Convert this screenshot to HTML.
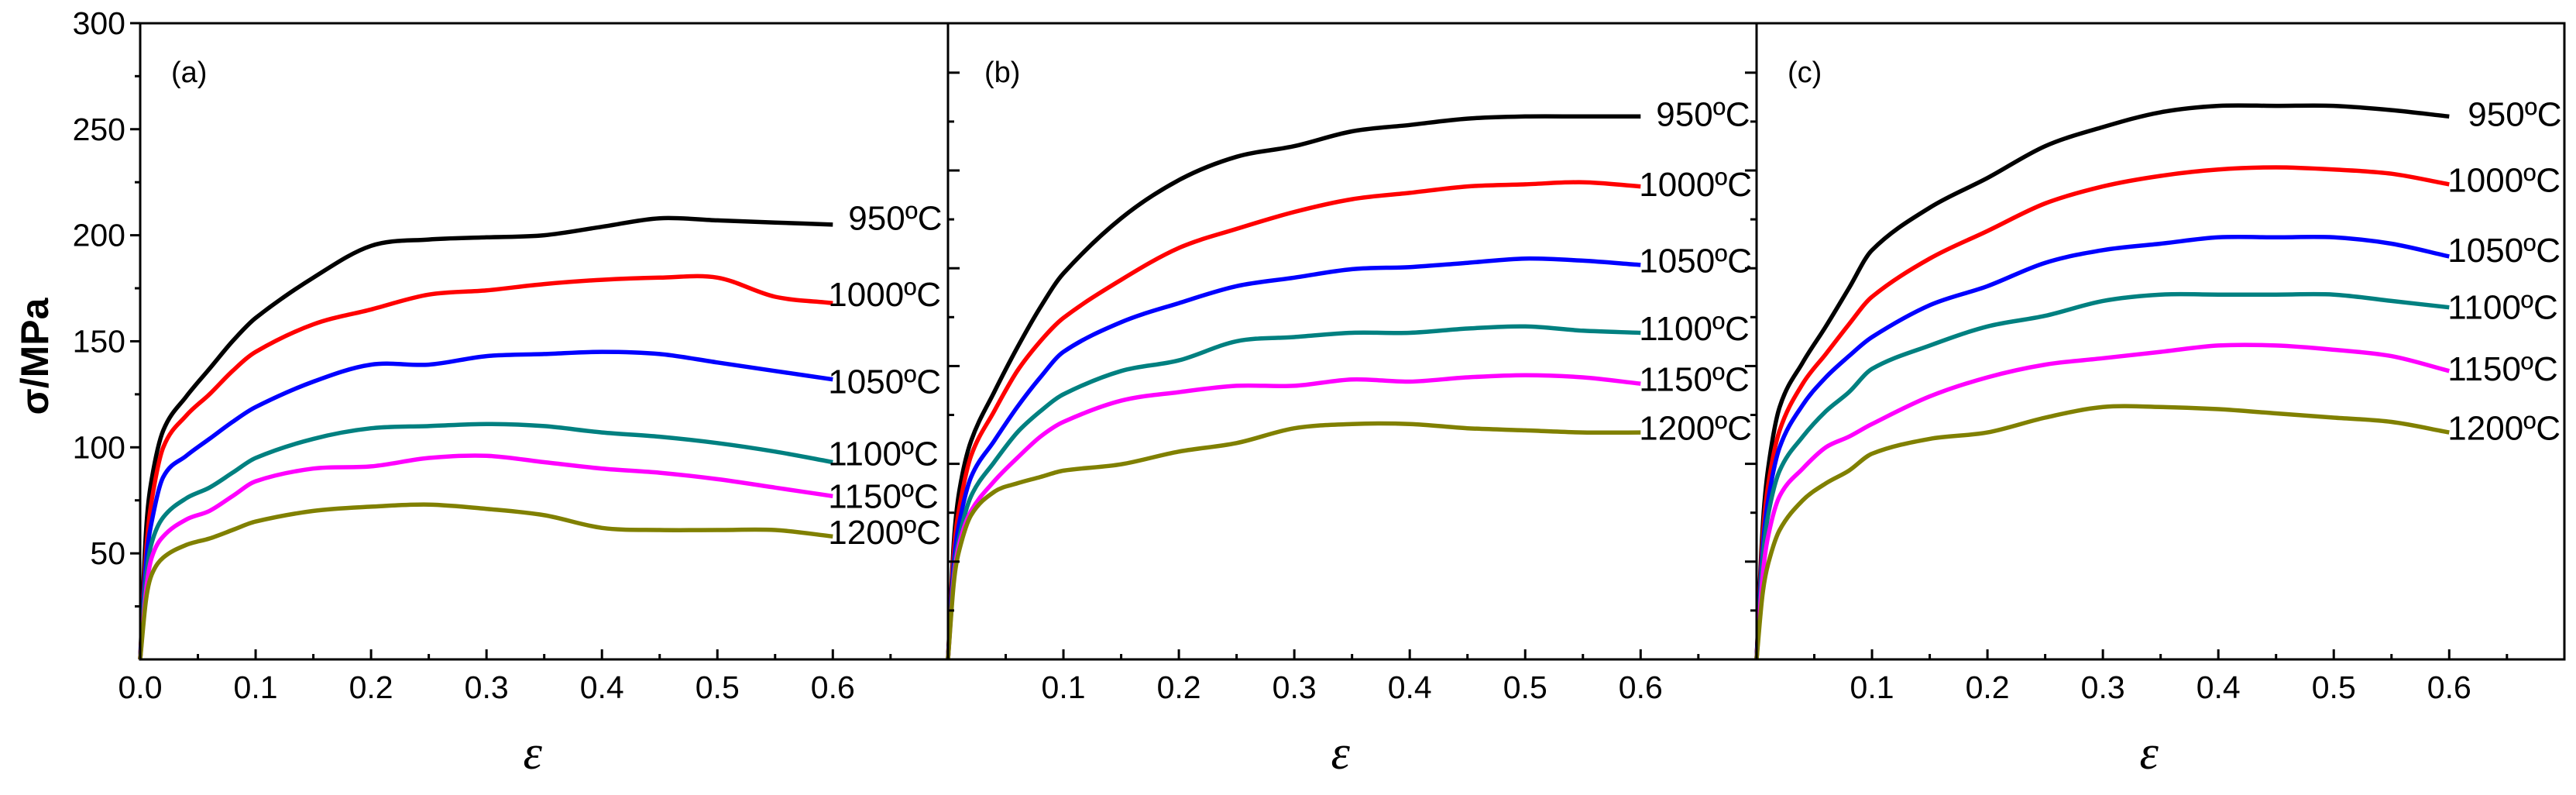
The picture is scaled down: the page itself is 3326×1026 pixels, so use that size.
<!DOCTYPE html>
<html><head><meta charset="utf-8"><style>
html,body{margin:0;padding:0;background:#fff;}
svg{display:block;font-family:"Liberation Sans",sans-serif;}
</style></head><body>
<svg id="chart" width="3326" height="1026" viewBox="0 0 3326 1026" xmlns="http://www.w3.org/2000/svg">
<rect x="0" y="0" width="3326" height="1026" fill="#fff"/>
<g id="marks"></g>
<g id="axes" stroke="#000" stroke-width="3" fill="none"></g>
<g id="texts" fill="#000"></g>
<text x="0" y="0" transform="translate(62,460) rotate(-90)" text-anchor="middle" font-size="50" font-weight="bold">σ/MPa</text>
</svg>
<script>
const strains = [0,0.005,0.01,0.02,0.04,0.06,0.08,0.1,0.15,0.2,0.25,0.3,0.35,0.4,0.45,0.5,0.55,0.6];
const temps = ["950ºC","1000ºC","1050ºC","1100ºC","1150ºC","1200ºC"];
const colors = ["#000000","#ff0000","#0000ff","#008080","#ff00ff","#808000"];
const panelNames = ["(a)","(b)","(c)"];
const stressA950 = [0,60,85,108,124,137,150,161,180,195,198,199,200,204,208,207,206,205];
const stressA1000 = [0,50,75,100,115,125,136,145,158,165,172,174,177,179,180,180,171,168];
const stressA1050 = [0,45,65,86,96,104,112,119,131,139,139,143,144,145,144,140,136,132];
const stressA1100 = [0,38,55,67,76,81,88,95,104,109,110,111,110,107,105,102,98,93];
const stressA1150 = [0,32,48,58,66,70,77,84,90,91,95,96,93,90,88,85,81,77];
const stressA1200 = [0,28,40,48,54,57,61,65,70,72,73,71,68,62,61,61,61,58];
const stressB950 = [0,55,80,103,126,147,166,182,208,226,237,242,249,252,255,256,256,256];
const stressB1000 = [0,50,72,96,117,136,150,161,179,194,203,211,217,220,223,224,225,223];
const stressB1050 = [0,45,65,86,103,119,133,145,159,168,176,180,184,185,187,189,188,186];
const stressB1100 = [0,40,58,77,93,107,117,125,136,141,150,152,154,154,156,157,155,154];
const stressB1150 = [0,38,55,70,84,95,105,112,122,126,129,129,132,131,133,134,133,130];
const stressB1200 = [0,36,52,68,79,83,86,89,92,98,102,109,111,111,109,108,107,107];
const stressC950 = [0,60,90,119,140,157,175,193,213,227,242,251,258,261,261,261,259,256];
const stressC1000 = [0,55,82,108,130,144,158,171,189,202,215,223,228,231,232,231,229,224];
const stressC1050 = [0,50,75,100,120,133,143,152,167,176,187,193,196,199,199,199,196,190];
const stressC1100 = [0,45,68,89,105,117,126,137,148,157,162,169,172,172,172,172,169,166];
const stressC1150 = [0,38,58,77,90,100,105,111,124,133,139,142,145,148,148,146,143,136];
const stressC1200 = [0,30,45,61,75,83,89,97,104,107,114,119,119,118,116,114,112,107];
const labelYA = [208,172,131,97,77,60];
const labelYB = [257,224,188,156,132,109];
const labelYC = [257,226,193,166,137,109];
const yTicks = [50,100,150,200,250,300];
const xTicksA = [0,0.1,0.2,0.3,0.4,0.5,0.6];
const xTicksBC = [0.1,0.2,0.3,0.4,0.5,0.6];

const panels = [
 {series:[stressA950,stressA1000,stressA1050,stressA1100,stressA1150,stressA1200], labels:labelYA, ticks:xTicksA, L:181},
 {series:[stressB950,stressB1000,stressB1050,stressB1100,stressB1150,stressB1200], labels:labelYB, ticks:xTicksBC, L:1224},
 {series:[stressC950,stressC1000,stressC1050,stressC1100,stressC1150,stressC1200], labels:labelYC, ticks:xTicksBC, L:2268}
];
const NS="http://www.w3.org/2000/svg";
const TOP=30, BOT=851, PXPERUNIT=1490.5, PXPERMPA=2.737, RIGHT=3311;
function yS(v){return BOT - v*PXPERMPA;}
function xS(p,e){return p.L + e*PXPERUNIT;}
function el(tag,attrs,parent){const e=document.createElementNS(NS,tag);for(const k in attrs)e.setAttribute(k,attrs[k]);parent.appendChild(e);return e;}
function smooth(pts){
  const n=pts.length, m=[];
  for(let i=0;i<n;i++){
    if(i===0) m.push((pts[1][1]-pts[0][1])/(pts[1][0]-pts[0][0]));
    else if(i===n-1) m.push((pts[n-1][1]-pts[n-2][1])/(pts[n-1][0]-pts[n-2][0]));
    else m.push((pts[i+1][1]-pts[i-1][1])/(pts[i+1][0]-pts[i-1][0]));
  }
  let d="M"+pts[0][0].toFixed(1)+","+pts[0][1].toFixed(1);
  for(let i=0;i<n-1;i++){
    const dx=(pts[i+1][0]-pts[i][0])/3;
    const c1=[pts[i][0]+dx,pts[i][1]+m[i]*dx];
    const c2=[pts[i+1][0]-dx,pts[i+1][1]-m[i+1]*dx];
    d+=" C"+c1[0].toFixed(1)+","+c1[1].toFixed(1)+" "+c2[0].toFixed(1)+","+c2[1].toFixed(1)+" "+pts[i+1][0].toFixed(1)+","+pts[i+1][1].toFixed(1);
  }
  return d;
}
const marks=document.getElementById('marks'), axes=document.getElementById('axes'), texts=document.getElementById('texts');
const frame=el('rect',{x:181,y:TOP,width:RIGHT-181,height:BOT-TOP},axes);


panels.forEach((p,pi)=>{
  const letter="abc"[pi];
  if(pi>0){
    const dv=el('line',{x1:p.L,y1:TOP,x2:p.L,y2:BOT},axes);
    
    
    for(let k=1;k<=12;k++){
      const y=BOT-k*63.1, len=(k%2===0)?15:8, dir=(pi===1)?1:-1;
      const t=el('line',{x1:p.L,y1:y,x2:p.L+dir*len,y2:y},axes);
      
      
    }
  }
  for(let e=(pi===0?0:0.05);e<0.66;e+=0.05){
    const major=Math.abs(Math.round(e*10)-e*10)<0.01;
    const x=xS(p,e);
    const t=el('line',{x1:x,y1:BOT,x2:x,y2:BOT-(major?13:7)},axes);
    
    
  }
  p.ticks.forEach(v=>{
    const t=el('text',{x:xS(p,v),y:901,'text-anchor':'middle','font-size':41},texts);
    t.textContent=v.toFixed(1);
    
    
  });
  const xt=el('text',{x:xS(p,0.34),y:992,'text-anchor':'middle','font-size':62,'font-style':'italic','font-family':'"Liberation Serif",serif'},texts);
  xt.textContent='ε';
  
  
  const pl=el('text',{x:p.L+(pi===0?40:pi===1?47:40),y:106,'font-size':38},texts);
  pl.textContent=panelNames[pi];
  
  
  p.series.forEach((vals,si)=>{
    const pts=strains.map((e,i)=>[xS(p,e),yS(vals[i])]);
    const path=el('path',{d:smooth(pts),stroke:colors[si],'stroke-width':5.5,fill:'none','stroke-linejoin':'round'},marks);
    
    
    const lx=xS(p,0.6)+(si===0?(pi===2?24:20):(pi===0?-6:-2));
    const lt=el('text',{x:lx,y:yS(p.labels[si])+15,'font-size':44},texts);
    lt.textContent=temps[si];
    
    
  });
});
for(let v=25;v<=300;v+=25){
  const major=v%50===0;
  const t=el('line',{x1:181,y1:yS(v),x2:181-(major?13:7),y2:yS(v)},axes);
  
  
}
yTicks.forEach(v=>{
  const t=el('text',{x:162,y:yS(v)+14,'text-anchor':'end','font-size':41},texts);
  t.textContent=String(v);
  
  
});
</script>
</body></html>
